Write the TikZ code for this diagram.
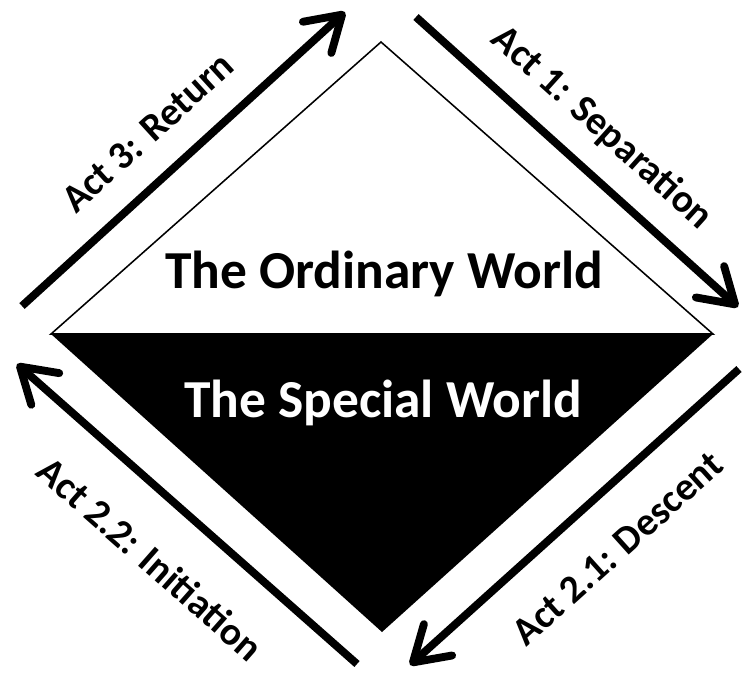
\documentclass[tikz,border=0pt]{standalone}
\usepackage{fontspec}
\setmainfont{Carlito}
\usetikzlibrary{arrows.meta}

\begin{document}
\begin{tikzpicture}[
    x=0.025cm, 
    y=-0.025cm, 
    act/.style={line width=5.6pt, -{Straight Barb[length=24pt, width=30pt, round]}},
    actlabel/.style={font=\bfseries\fontsize{28}{30}\selectfont, inner sep=0pt},
    world/.style={font=\bfseries\fontsize{38}{40}\selectfont, inner sep=0pt, anchor=base}
]
    \useasboundingbox (0,0) rectangle (743,673);

    % Define Coordinates
    \coordinate (T) at (381,42);  % Top
    \coordinate (L) at (51,334);  % Left
    \coordinate (R) at (713,334); % Right
    \coordinate (B) at (382,632); % Bottom

    % Draw Diamond
    \fill (L) -- (R) -- (B) -- cycle;
    \draw[line width=1.1pt, line join=miter] (L) -- (T) -- (R) -- cycle;

    \node[world] (ordinary) at (384,288) {The Ordinary World};
    \node[world, text=white] (special) at (383,417) {The Special World};

    % Arrow Coordinates
    \coordinate (a3s) at (22,306);
    \coordinate (a3e) at (345,12);
    \coordinate (a1s) at (416,17);
    \coordinate (a1e) at (738,307);
    \coordinate (a21s) at (739,369);
    \coordinate (a21e) at (410,665);
    \coordinate (a22s) at (357,664);
    \coordinate (a22e) at (17,364);

    % Draw Arrows
    % 'sloped' aligns text with the arrow
    \draw[act] (a3s) -- node[actlabel, sloped, above=19pt, pos=0.48] {Act 3: Return} (a3e);
    \draw[act] (a1s) -- node[actlabel, sloped, above=15pt, pos=0.49] {Act 1: Separation} (a1e);
    \draw[act] (a21s) -- node[actlabel, sloped, below=25pt, pos=0.475] {Act 2.1: Descent} (a21e);
    \draw[act] (a22s) -- node[actlabel, sloped, below=28pt, pos=0.495] {Act 2.2: Initiation} (a22e);

\end{tikzpicture}
\end{document}
